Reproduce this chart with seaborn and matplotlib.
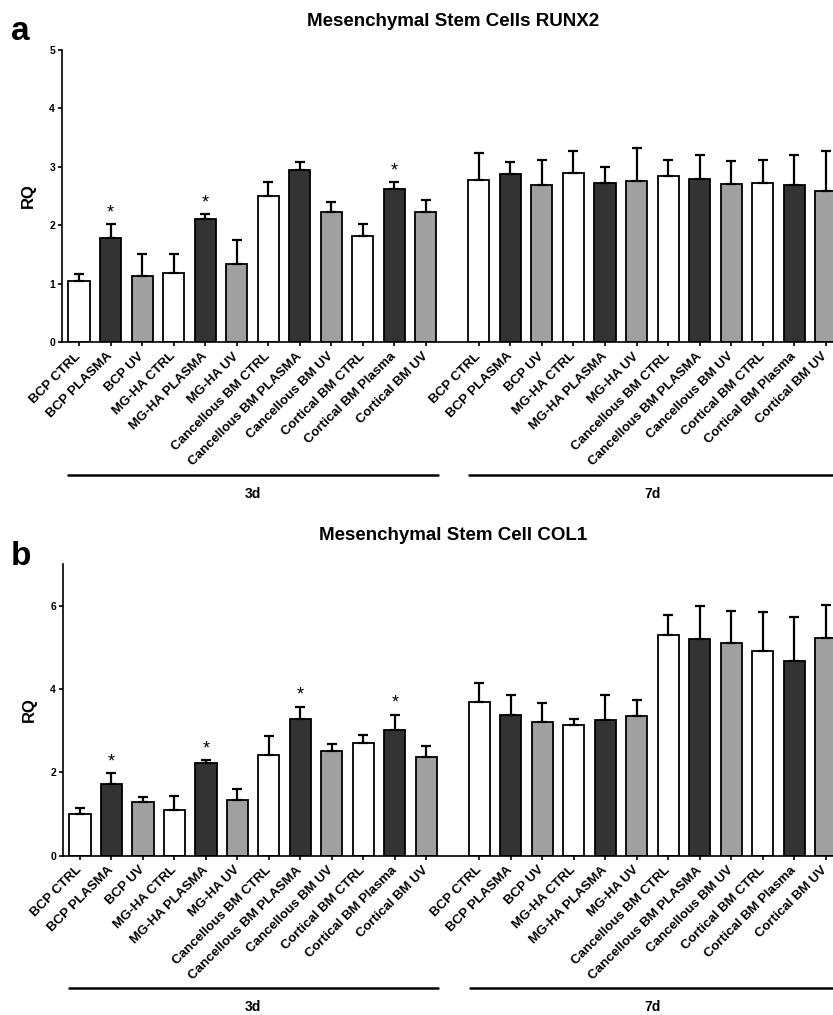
import numpy as np
import pandas as pd
import matplotlib
matplotlib.use("Agg")
import matplotlib.pyplot as plt
import matplotlib.transforms as mtransforms
import seaborn as sns

sns.set_style("ticks")
plt.rcParams['font.family'] = ['Liberation Sans', 'DejaVu Sans']
plt.rcParams['font.weight'] = 'bold'
for key in ['text.color', 'axes.labelcolor', 'xtick.color', 'ytick.color', 'axes.edgecolor']:
    plt.rcParams[key] = 'black'

# Data (mean RQ and SD)
labels = ["BCP CTRL", "BCP PLASMA", "BCP UV", "MG-HA CTRL", "MG-HA PLASMA", "MG-HA UV",
          "Cancellous BM CTRL", "Cancellous BM PLASMA", "Cancellous BM UV",
          "Cortical BM CTRL", "Cortical BM Plasma", "Cortical BM UV"]
treatments = ["CTRL", "PLASMA", "UV"] * 4
days = ["3d", "7d"]

runx2_3d = [1.04, 1.79, 1.13, 1.18, 2.11, 1.34, 2.50, 2.94, 2.23, 1.82, 2.62, 2.22]
runx2_3d_sd = [0.12, 0.23, 0.37, 0.32, 0.08, 0.41, 0.24, 0.14, 0.16, 0.20, 0.12, 0.21]
runx2_7d = [2.78, 2.88, 2.69, 2.90, 2.73, 2.76, 2.85, 2.79, 2.70, 2.73, 2.69, 2.59]
runx2_7d_sd = [0.45, 0.21, 0.42, 0.37, 0.27, 0.56, 0.27, 0.42, 0.40, 0.39, 0.52, 0.68]
runx2_stars = [1, 4, 10]

col1_3d = [1.00, 1.72, 1.30, 1.11, 2.22, 1.34, 2.42, 3.29, 2.52, 2.70, 3.02, 2.38]
col1_3d_sd = [0.15, 0.26, 0.11, 0.33, 0.08, 0.27, 0.46, 0.29, 0.17, 0.21, 0.37, 0.26]
col1_7d = [3.70, 3.37, 3.21, 3.13, 3.27, 3.36, 5.30, 5.20, 5.10, 4.92, 4.69, 5.22]
col1_7d_sd = [0.45, 0.50, 0.45, 0.15, 0.59, 0.38, 0.49, 0.80, 0.79, 0.93, 1.04, 0.80]
col1_stars = [1, 4, 7, 10]

palette = {"CTRL": "#ffffff", "PLASMA": "#333333", "UV": "#a0a0a0"}

# bar positions: two groups of 12 with a gap between them
gap_start = 12.68
pos = list(np.arange(12)) + list(gap_start + np.arange(12))


def panel(ax, m3, s3, m7, s7, stars, ymax, yticks):
    df = pd.DataFrame({
        "pos": pos,
        "rq": m3 + m7,
        "sd": s3 + s7,
        "treat": treatments * 2,
    })
    sns.barplot(data=df, x="pos", y="rq", hue="treat", palette=palette,
                native_scale=True, dodge=False, orient="x", width=0.67,
                edgecolor="black", linewidth=1.3, errorbar=None,
                legend=False, ax=ax, zorder=2)
    ax.errorbar(df["pos"], df["rq"], yerr=[np.zeros(len(df)), df["sd"]],
                fmt="none", ecolor="black", elinewidth=1.6, capsize=3.5,
                capthick=1.6, zorder=3)
    for i in stars:
        ax.annotate("*", (df["pos"][i], df["rq"][i] + df["sd"][i]),
                    xytext=(0, 2), textcoords="offset points",
                    ha="center", va="bottom", fontsize=13, fontweight="normal")

    ax.set_xlim(-0.54, 23.91)
    ax.set_ylim(0, ymax)
    ax.set_yticks(yticks)
    ax.tick_params(axis="y", labelsize=7.5, length=3, width=1.2, pad=2)
    ax.set_xticks(pos)
    ax.set_xticklabels(labels * 2, rotation=45, ha="right", va="center",
                       rotation_mode="anchor", fontsize=9.5, fontweight="bold")
    ax.tick_params(axis="x", length=3, width=1.2, pad=6)
    ax.set_xlabel("")
    ax.set_ylabel("RQ", fontsize=12, fontweight="bold", labelpad=10)
    sns.despine(ax=ax)
    for sp in ["left", "bottom"]:
        ax.spines[sp].set_linewidth(1.2)

    # group lines and day labels under the axis
    trans = mtransforms.blended_transform_factory(ax.transData, ax.transAxes)
    ax.plot([-0.36, 11.37], [-0.455, -0.455], color="black", lw=1.8,
            transform=trans, clip_on=False)
    ax.plot([gap_start - 0.3, 24.5], [-0.455, -0.455], color="black", lw=1.8,
            transform=trans, clip_on=False)
    ax.text(5.5, -0.52, days[0], transform=trans, ha="center", va="center",
            fontsize=10, fontweight="bold")
    ax.text(gap_start + 5.5, -0.52, days[1], transform=trans, ha="center",
            va="center", fontsize=10, fontweight="bold")

    return ax


fig = plt.figure(figsize=(8.33, 10.15), dpi=100)
ax_a = fig.add_axes([0.0744, 0.6630, 0.9256, 0.2877])
ax_b = fig.add_axes([0.0756, 0.1569, 0.9244, 0.2871])

panel(ax_a, runx2_3d, runx2_3d_sd, runx2_7d, runx2_7d_sd, runx2_stars,
      5, [0, 1, 2, 3, 4, 5])
panel(ax_b, col1_3d, col1_3d_sd, col1_7d, col1_7d_sd, col1_stars,
      7, [0, 2, 4, 6])

fig.text(453 / 833, 1 - 22 / 1015, "Mesenchymal Stem Cells RUNX2",
         ha="center", va="center", fontsize=13.5, fontweight="bold")
fig.text(453 / 833, 1 - 536 / 1015, "Mesenchymal Stem Cell COL1",
         ha="center", va="center", fontsize=13.5, fontweight="bold")
fig.text(11 / 833, 1 - 40 / 1015, "a", ha="left", va="baseline",
         fontsize=24, fontweight="bold")
fig.text(11 / 833, 1 - 565 / 1015, "b", ha="left", va="baseline",
         fontsize=24, fontweight="bold")

fig.savefig("out.png", dpi=100)
